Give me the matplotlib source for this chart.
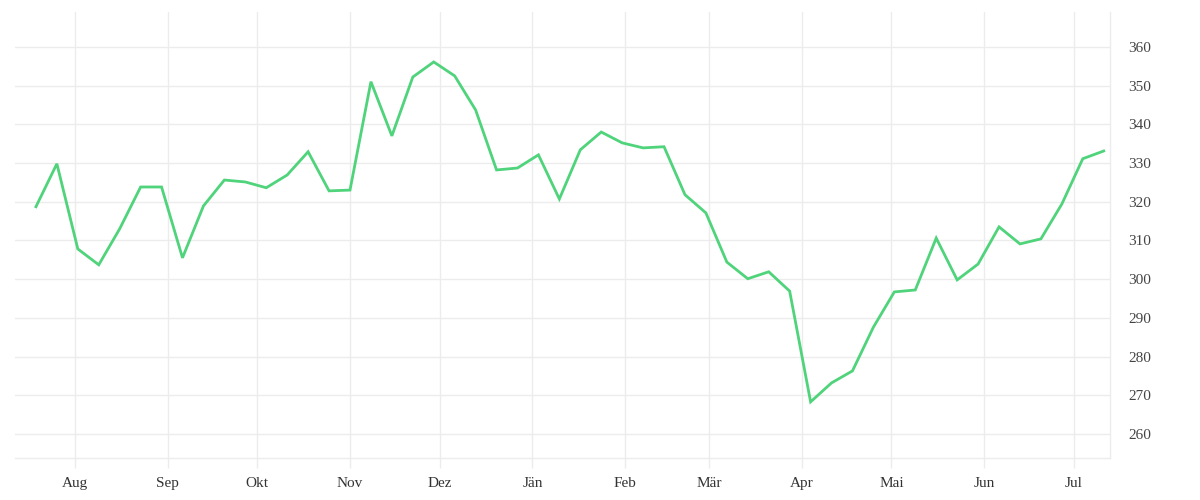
import datetime as dt
import matplotlib
matplotlib.use('Agg')
import matplotlib.pyplot as plt
import matplotlib.dates as mdates

LINE = '#4fd37b'
GRID = '#ececec'
INK = '#444444'

# weekly values, starting 2022-07-19
start = dt.date(2022, 7, 19)
values = [318.7, 329.8, 307.8, 303.7, 313.0, 323.8, 323.8, 305.5, 318.9, 325.6,
          325.1, 323.6, 326.9, 332.9, 322.8, 323.0, 351.0, 337.0, 352.2, 356.1,
          352.5, 343.7, 328.2, 328.7, 332.1, 320.7, 333.4, 338.0, 335.2, 333.9,
          334.2, 321.8, 317.1, 304.4, 300.1, 301.9, 296.9, 268.3, 273.2, 276.3,
          287.6, 296.7, 297.2, 310.6, 299.8, 303.9, 313.5, 309.1, 310.4, 319.4,
          331.1, 333.1]
dates = [start + dt.timedelta(weeks=i) for i in range(len(values))]

month_ticks = [dt.date(2022, m, 1) for m in range(8, 13)] + \
              [dt.date(2023, m, 1) for m in range(1, 8)]
month_labels = ['Aug', 'Sep', 'Okt', 'Nov', 'Dez', 'Jän', 'Feb', 'Mär',
                'Apr', 'Mai', 'Jun', 'Jul']
y_ticks = list(range(260, 361, 10))

plt.rcParams['font.family'] = ['Liberation Serif', 'DejaVu Serif']

fig = plt.figure(figsize=(12, 5), dpi=100)
ax = fig.add_axes([15 / 1200, 42 / 500, 1095 / 1200, 446 / 500])

ax.plot(dates, values, color=LINE, linewidth=2.0, solid_joinstyle='miter',
        zorder=3)

x0 = mdates.date2num(dt.date(2022, 7, 12))
ax.set_xlim(x0, x0 + 366.1)
ax.set_ylim(253.8, 369.0)

ax.set_xticks(month_ticks)
ax.set_xticklabels(month_labels)
ax.set_yticks(y_ticks)
ax.yaxis.tick_right()

ax.grid(True, color=GRID, linewidth=1.0, zorder=0)
ax.tick_params(axis='x', length=7.5, color=GRID, width=1.0, pad=6,
               labelsize=11, labelcolor='#333333')
ax.tick_params(axis='y', length=0, pad=13, labelsize=11, labelcolor=INK)

for side in ('top', 'left'):
    ax.spines[side].set_visible(False)
for side in ('bottom', 'right'):
    ax.spines[side].set_color(GRID)
    ax.spines[side].set_linewidth(1.0)

fig.savefig('out.png', dpi=100)
